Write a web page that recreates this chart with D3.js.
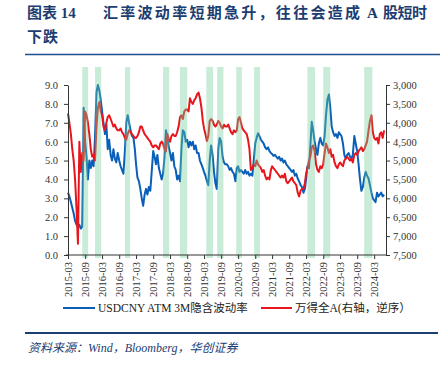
<!DOCTYPE html>
<html>
<head>
<meta charset="utf-8">
<script src="https://cdn.jsdelivr.net/npm/d3@7"></script>
<style>
  body { margin: 0; background: #fff; }
  svg { display: block; }
</style>
</head>
<body>
<svg id="chart" width="444" height="368"></svg>
<script>
// USDCNY ATM 3M implied vol, semi-monthly from 2015-03 (1st and 16th of each month)
var usdcnyVol = [
  // 2015 Mar-Dec
  3.3,3.1, 2.8,2.5, 2.2,1.8, 1.6,1.5, 1.6,1.4, 1.5,7.8, 6.0,5.2, 4.0,5.0, 4.6,5.0, 4.7,6.2,
  // 2016
  8.6,9.0, 8.7,8.2, 7.6,7.0, 6.4,6.9, 5.6,6.1, 5.3,5.0, 5.6,5.1, 4.9,5.4, 5.0,4.7, 4.5,4.3, 5.5,7.0, 7.4,7.0,
  // 2017
  6.6,6.3, 6.2,5.6, 4.8,4.1, 3.9,3.5, 3.0,2.6, 3.2,3.5, 3.2,3.6, 3.4,4.4, 5.5,5.2, 4.8,5.3, 4.6,4.3, 4.0,4.3,
  // 2018
  5.2,6.6, 6.2,5.7, 5.4,5.0, 5.4,4.7, 4.5,4.0, 4.2,3.9, 5.6,6.6, 6.5,6.0, 6.1,5.7, 6.0,5.8, 6.0,5.6, 5.8,5.4,
  // 2019
  5.4,5.0, 4.8,4.6, 4.4,4.2, 3.9,3.7, 5.0,5.8, 5.3,4.4, 3.8,3.5, 5.6,6.2, 6.0,5.2, 4.9,4.8, 4.8,4.7, 4.5,4.6,
  // 2020
  4.4,4.3, 3.9,4.6, 4.7,4.4, 4.5,4.4, 4.3,4.5, 4.3,4.4, 4.2,4.3, 4.2,5.0, 5.9,6.2, 6.45,6.3, 6.1,6.0, 5.9,5.7,
  // 2021
  5.6,5.7, 5.5,5.4, 5.35,5.25, 5.3,5.2, 5.1,5.2, 5.0,5.1, 4.9,5.0, 4.8,4.7, 4.6,4.5, 4.4,4.5, 4.2,4.3, 4.05,3.9,
  // 2022
  3.7,3.6, 3.3,3.5, 4.0,4.7, 4.6,5.8, 7.05,6.6, 6.0,5.6, 5.3,5.9, 6.2,5.9, 5.8,6.3, 7.4,8.2, 8.5,7.8, 6.8,6.5,
  // 2023
  6.3,6.4, 6.2,6.5, 6.4,6.3, 5.9,5.3, 5.1,5.3, 5.4,5.2, 5.1,5.3, 6.3,5.9, 5.5,4.8, 4.0,3.4, 3.6,4.1, 4.4,4.2,
  // 2024 Jan-Jun
  4.05,3.7, 3.3,3.0, 2.9,2.8, 3.3,3.1, 3.2,3.3, 3.1,3.2
];

// Wind All A index, same dates (right axis, reversed)
var windAllA = [
  // 2015 Mar-Dec
  3750,4000, 4300,4700, 5000,5500, 6300,7200, 4500,5300, 4800,5000, 3700,3800, 4000,4300, 4700,4900, 4850,5000,
  // 2016
  4100,3600, 3450,3700, 3800,4100, 4200,4000, 3850,3800, 3900,4000, 4100,4050, 4150,4200, 4200,4150, 4250,4300, 4400,4450, 4300,4200,
  // 2017
  4250,4300, 4350,4400, 4400,4350, 4250,4100, 4100,4200, 4300,4350, 4400,4450, 4500,4600, 4650,4600, 4600,4650, 4700,4550, 4500,4550,
  // 2018
  4700,4760, 4300,4450, 4500,4350, 4300,4350, 4350,4250, 4100,3850, 3800,3900, 3700,3650, 3650,3700, 3350,3450, 3500,3400, 3350,3250,
  // 2019
  3200,3350, 3600,3950, 4150,4300, 4480,4350, 3950,3900, 3950,4050, 4100,4050, 3950,4000, 4100,4150, 4050,4100, 4100,4050, 4150,4250,
  // 2020
  4300,4200, 4250,4200, 3900,3850, 4000,4150, 4200,4250, 4300,4450, 4700,5250, 5200,5100, 5150,5000, 5100,5150, 5200,5300, 5250,5400,
  // 2021
  5500,5450, 5500,5250, 5150,5200, 5250,5300, 5350,5400, 5450,5400, 5450,5350, 5550,5600, 5550,5500, 5450,5550, 5600,5650, 5850,5950,
  // 2022
  5800,5750, 5750,5600, 5350,5200, 5000,4900, 4650,4600, 4750,5100, 5250,5300, 5150,5200, 5100,4800, 4550,4650, 4800,4700, 4900,4850,
  // 2023
  5050,5150, 5200,5100, 5050,5100, 5150,5000, 4950,4900, 4950,5000, 4950,5050, 4850,4800, 4850,4750, 4700,4650, 4750,4700, 4600,4500,
  // 2024 Jan-Jun
  4200,3950, 3800,4250, 4400,4450, 4400,4550, 4300,4250, 4400,4200
];

// periods of sharp FX-vol spikes (shaded)
var bandStart = ["2015-08-01","2015-12-16","2016-11-03","2017-12-16","2018-06-15","2019-03-25",
                 "2019-07-20","2020-02-10","2020-08-20","2022-03-15","2022-09-01","2023-11-15"];
var bandEnd   = ["2015-10-03","2016-02-20","2016-12-27","2018-02-20","2018-09-01","2019-06-05",
                 "2019-09-25","2020-04-10","2020-10-22","2022-06-05","2022-11-15","2024-02-10"];

var xTickLabels = ["2015-03","2015-09","2016-03","2016-09","2017-03","2017-09","2018-03","2018-09",
                   "2019-03","2019-09","2020-03","2020-09","2021-03","2021-09","2022-03","2022-09",
                   "2023-03","2023-09","2024-03"];
var leftTicks  = [0,1,2,3,4,5,6,7,8,9];
var rightTicks = [3000,3500,4000,4500,5000,5500,6000,6500,7000,7500];

var serif = "'Liberation Serif','Times New Roman','Noto Sans CJK SC',serif";
var navy = "#1c3d72";

function halfMonth(i) { return new Date(2015, 2 + Math.floor(i / 2), i % 2 ? 16 : 1); }
var parseDay = d3.timeParse("%Y-%m-%d");
var parseMonth = d3.timeParse("%Y-%m");

var svg = d3.select("#chart");

// Title
var title = svg.append("g")
    .style("font-family", serif)
    .style("font-weight", "bold")
    .style("font-size", "15px")
    .style("fill", navy);
title.append("text").attr("x", 27).attr("y", 18).text("图表 14");
title.append("text").attr("x", 103).attr("y", 18)
    .attr("textLength", 257).attr("lengthAdjust", "spacing")
    .text("汇率波动率短期急升，往往会造成");
title.append("text").attr("x", 367).attr("y", 18).text("A");
title.append("text").attr("x", 383).attr("y", 18)
    .attr("textLength", 44).attr("lengthAdjust", "spacing").text("股短时");
title.append("text").attr("x", 27).attr("y", 42)
    .attr("textLength", 31).attr("lengthAdjust", "spacing").text("下跌");

svg.append("line").attr("x1", 25).attr("x2", 440).attr("y1", 54.5).attr("y2", 54.5)
    .style("stroke", "#1f4e8c").style("stroke-width", 1.5);

// Scales
var x = d3.scaleTime()
    .domain([new Date(2015, 2, 1), new Date(2024, 6, 1)])
    .range([68, 385.5]);
var yL = d3.scaleLinear().domain([0, 9]).range([255, 85]);
var yR = d3.scaleLinear().domain([3000, 7500]).range([85, 255]);

// Lines
var volLine = d3.line().x(function(d, i) { return x(halfMonth(i)); }).y(function(d) { return yL(d); });
var idxLine = d3.line().x(function(d, i) { return x(halfMonth(i)); }).y(function(d) { return yR(d); });

svg.append("path").datum(usdcnyVol)
    .attr("d", volLine)
    .style("fill", "none").style("stroke", "#0a5fb8").style("stroke-width", 2)
    .style("stroke-linejoin", "round");
svg.append("path").datum(windAllA)
    .attr("d", idxLine)
    .style("fill", "none").style("stroke", "#e8151d").style("stroke-width", 2)
    .style("stroke-linejoin", "round");

// Shaded bands (drawn over the lines, translucent)
svg.append("g").selectAll("rect")
    .data(bandStart)
    .enter().append("rect")
    .attr("x", function(d) { return x(parseDay(d)); })
    .attr("width", function(d, i) { return x(parseDay(bandEnd[i])) - x(parseDay(d)); })
    .attr("y", 67)
    .attr("height", 191)
    .style("fill", "rgb(110,205,150)")
    .style("opacity", 0.38);

// Axes
function styleAxis(g) {
    g.selectAll("path, line").style("stroke", "#333");
    g.selectAll("text").style("fill", "#333").style("font-family", serif).style("font-size", "10.5px");
}

svg.append("g")
    .attr("transform", "translate(68,0)")
    .call(d3.axisLeft(yL).tickValues(leftTicks).tickFormat(d3.format(".1f")).tickSize(4).tickSizeOuter(0).tickPadding(6))
    .call(styleAxis);

svg.append("g")
    .attr("transform", "translate(386,0)")
    .call(d3.axisRight(yR).tickValues(rightTicks).tickFormat(d3.format(",")).tickSize(4).tickSizeOuter(0).tickPadding(3))
    .call(styleAxis);

var xAxisG = svg.append("g")
    .attr("transform", "translate(0,255)")
    .call(d3.axisBottom(x)
        .tickValues(xTickLabels.map(function(s) { return parseMonth(s); }))
        .tickFormat(d3.timeFormat("%Y-%m"))
        .tickSize(4).tickSizeOuter(0))
    .call(styleAxis);
xAxisG.select(".domain").attr("d", "M66,0H386");
xAxisG.selectAll("text")
    .attr("transform", "rotate(-90)")
    .attr("x", -7)
    .attr("y", 0)
    .attr("dy", "0.35em")
    .style("text-anchor", "end");

// Legend
var legend = svg.append("g").style("font-family", serif).style("font-size", "11.5px").style("fill", "#222");
legend.append("line").attr("x1", 63).attr("x2", 95).attr("y1", 308).attr("y2", 308)
    .style("stroke", "#0a5fb8").style("stroke-width", 2);
legend.append("text").attr("x", 98).attr("y", 312).text("USDCNY ATM 3M隐含波动率");
legend.append("line").attr("x1", 261).attr("x2", 292).attr("y1", 308).attr("y2", 308)
    .style("stroke", "#e8151d").style("stroke-width", 2);
legend.append("text").attr("x", 295).attr("y", 312).text("万得全A(右轴，逆序）");

// Footer
svg.append("line").attr("x1", 25).attr("x2", 438).attr("y1", 333).attr("y2", 333)
    .style("stroke", "#1c3d72").style("stroke-width", 1.8);
svg.append("text")
    .attr("x", 28).attr("y", 352)
    .style("font-family", serif)
    .style("font-style", "italic")
    .style("font-size", "12px")
    .style("fill", navy)
    .text("资料来源：Wind，Bloomberg，华创证券");
</script>
</body>
</html>
